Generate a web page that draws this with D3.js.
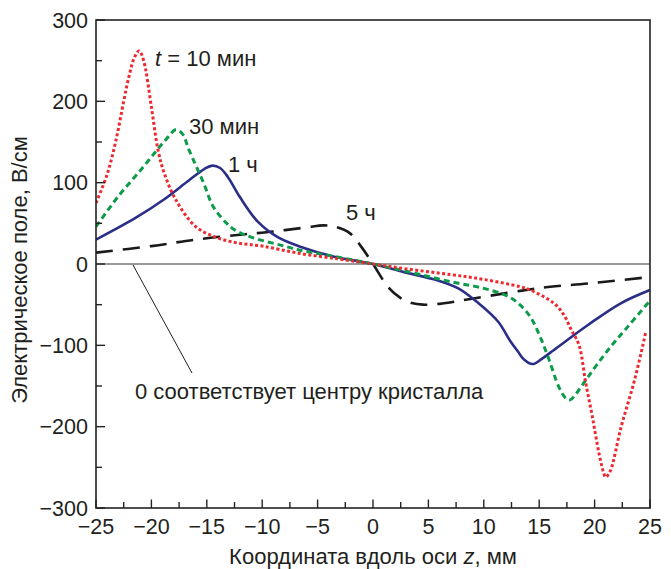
<!DOCTYPE html>
<html>
<head>
<meta charset="utf-8">
<script src="https://cdn.jsdelivr.net/npm/d3@7/dist/d3.min.js"></script>
<style>
  html, body { margin: 0; padding: 0; background: #fff; }
  svg { display: block; font-family: "Liberation Sans", Arial, Helvetica, sans-serif; }
</style>
</head>
<body>
<svg id="chart" width="671" height="569"></svg>
<script>
// Electric field profiles along the crystal axis at different times
const zTicks = [-25, -20, -15, -10, -5, 0, 5, 10, 15, 20, 25];
const eTicks = [-300, -200, -100, 0, 100, 200, 300];

const z10min = [-25, -24, -23.2, -22.5, -22, -21.5, -21.1, -20.7, -20, -19.4, -18.85, -17.8, -16, -14.2, -12.3, -10, -6.6, -3, 0, 3, 7, 10, 13.3, 14.2, 16.3, 17.2, 17.9, 18.6, 19.2, 19.8, 20.4, 20.8, 21.0, 21.4, 22.4, 23.6, 24.6];
const e10min = [75, 110, 152, 200, 232, 255, 262, 250, 193, 140, 112, 79, 46, 33, 26, 22, 13, 6, 0, -6, -13, -19, -28, -32, -48, -62, -81, -100, -146, -188, -233, -256, -262, -255, -200, -143, -85];

const z30min = [-25, -23, -21, -19.5, -18.5, -17.8, -17.2, -16.6, -15.3, -14.4, -13.2, -12.5, -11, -8, -6.6, -3, 0, 3, 7.1, 10, 11.9, 13, 14.2, 15.1, 15.9, 16.8, 17.4, 17.8, 18.3, 19.4, 21.2, 23, 25];
const e30min = [46, 83, 115, 140, 156, 165, 160, 140, 100, 70, 50, 42, 33, 22, 17, 8, 0, -9, -22, -30, -38, -47, -65, -90, -118, -152, -165, -167, -160, -139, -106, -77, -45];

const z1h = [-25, -21.4, -18.9, -16.6, -15.2, -14.5, -13.8, -13.1, -12, -10.4, -8.6, -6.5, -3.5, 0, 2.8, 5.8, 7.7, 9.5, 11.3, 12.4, 13.1, 13.6, 14.4, 15.2, 16.3, 19.4, 22.4, 25];
const e1h = [30, 57, 79, 103, 117, 121, 118, 107, 82, 52, 33, 21, 9, 0, -10, -20, -30, -48, -71, -95, -108, -117, -123, -117, -106, -75, -48, -32];

const z5h = [-25, -20, -16, -12, -9, -6, -4.5, -3.5, -2.1, -1.1, 0, 1.4, 2.5, 3.5, 4.5, 6, 8.8, 13.3, 16, 19.4, 25];
const e5h = [14, 22, 30, 36, 40, 45, 47.5, 46, 38, 22, 0, -29, -42, -48, -50, -49, -43, -33, -28, -24, -16];

const seriesNames = ["t = 10 мин", "30 мин", "1 ч", "5 ч"];

const svg = d3.select("#chart");
const margin = { left: 96, right: 21, top: 20, bottom: 61 };
const W = 671, H = 569;
const x = d3.scaleLinear().domain([-25, 25]).range([margin.left, W - margin.right]);
const y = d3.scaleLinear().domain([-300, 300]).range([H - margin.bottom, margin.top]);

const tickSize = 21.5;
const textSize = 22;

// clip region for curves
svg.append("defs").append("clipPath").attr("id", "plotClip")
  .append("rect")
  .attr("x", x(-25)).attr("y", y(300))
  .attr("width", x(25) - x(-25)).attr("height", y(-300) - y(300));

// zero line
svg.append("line")
  .attr("x1", x(-25)).attr("x2", x(25))
  .attr("y1", y(0)).attr("y2", y(0))
  .attr("stroke", "#333").attr("stroke-width", 1.2);

// curves
const line = d3.line().x(d => x(d[0])).y(d => y(d[1])).curve(d3.curveCatmullRom.alpha(0.5));
const zip = (a, b) => a.map((v, i) => [v, b[i]]);

const curves = [
  { data: zip(z5h, e5h), color: "#1a1a1a", width: 2.6, dash: "17,10" },
  { data: zip(z1h, e1h), color: "#2b2e86", width: 2.6, dash: null },
  { data: zip(z30min, e30min), color: "#0c9b4a", width: 3, dash: "6,4" },
  { data: zip(z10min, e10min), color: "#ec2a30", width: 3, dash: "3,2.4" }
];

const g = svg.append("g").attr("clip-path", "url(#plotClip)");
curves.forEach(c => {
  g.append("path")
    .attr("d", line(c.data))
    .attr("fill", "none")
    .attr("stroke", c.color)
    .attr("stroke-width", c.width)
    .attr("stroke-dasharray", c.dash)
    .attr("stroke-linejoin", "round");
});

// frame
svg.append("rect")
  .attr("x", x(-25)).attr("y", y(300))
  .attr("width", x(25) - x(-25)).attr("height", y(-300) - y(300))
  .attr("fill", "none").attr("stroke", "#222").attr("stroke-width", 1.6);

// x axis: inward ticks every 2.5, labels every 5
const xAxisG = svg.append("g");
d3.range(-25, 25.01, 2.5).forEach(v => {
  const major = Math.abs(v % 5) < 1e-9;
  xAxisG.append("line")
    .attr("x1", x(v)).attr("x2", x(v))
    .attr("y1", y(-300)).attr("y2", y(-300) - (major ? 8.5 : 6))
    .attr("stroke", "#222").attr("stroke-width", 1.4);
});
const fmt = d3.format("");
xAxisG.selectAll("text.xt").data(zTicks).join("text")
  .attr("class", "xt")
  .attr("x", d => x(d)).attr("y", 534)
  .attr("text-anchor", "middle")
  .attr("font-size", tickSize).attr("fill", "#231f20")
  .text(d => fmt(d));

// y axis: inward ticks every 50, labels every 100
const yAxisG = svg.append("g");
d3.range(-300, 300.01, 50).forEach(v => {
  const major = Math.abs(v % 100) < 1e-9;
  yAxisG.append("line")
    .attr("x1", x(-25)).attr("x2", x(-25) + (major ? 9 : 6))
    .attr("y1", y(v)).attr("y2", y(v))
    .attr("stroke", "#222").attr("stroke-width", 1.4);
});
yAxisG.selectAll("text.yt").data(eTicks).join("text")
  .attr("class", "yt")
  .attr("x", 88).attr("y", d => y(d))
  .attr("dy", "0.36em")
  .attr("text-anchor", "end")
  .attr("font-size", tickSize).attr("fill", "#231f20")
  .text(d => fmt(d));

// axis titles
const xt = svg.append("text")
  .attr("x", x(0)).attr("y", 564)
  .attr("text-anchor", "middle")
  .attr("font-size", textSize).attr("fill", "#231f20");
xt.append("tspan").text("Координата вдоль оси ");
xt.append("tspan").attr("font-style", "italic").text("z");
xt.append("tspan").text(", мм");

svg.append("text")
  .attr("transform", "translate(27,270) rotate(-90)")
  .attr("text-anchor", "middle")
  .attr("font-size", textSize).attr("fill", "#231f20")
  .text("Электрическое поле, В/см");

// curve labels
const lbl = svg.append("g").attr("font-size", textSize).attr("fill", "#231f20");
const t10 = lbl.append("text").attr("x", 155).attr("y", 66);
t10.append("tspan").attr("font-style", "italic").text("t");
t10.append("tspan").text(seriesNames[0].slice(1));
lbl.append("text").attr("x", 189).attr("y", 134).text(seriesNames[1]);
lbl.append("text").attr("x", 228).attr("y", 172).text(seriesNames[2]);
lbl.append("text").attr("x", 346).attr("y", 220).text(seriesNames[3]);

// leader note for the crystal centre
svg.append("line")
  .attr("x1", 133).attr("y1", y(0) + 1)
  .attr("x2", 192).attr("y2", 373)
  .attr("stroke", "#231f20").attr("stroke-width", 1);
lbl.append("text").attr("x", 135).attr("y", 399).text("0 соответствует центру кристалла");
</script>
</body>
</html>
